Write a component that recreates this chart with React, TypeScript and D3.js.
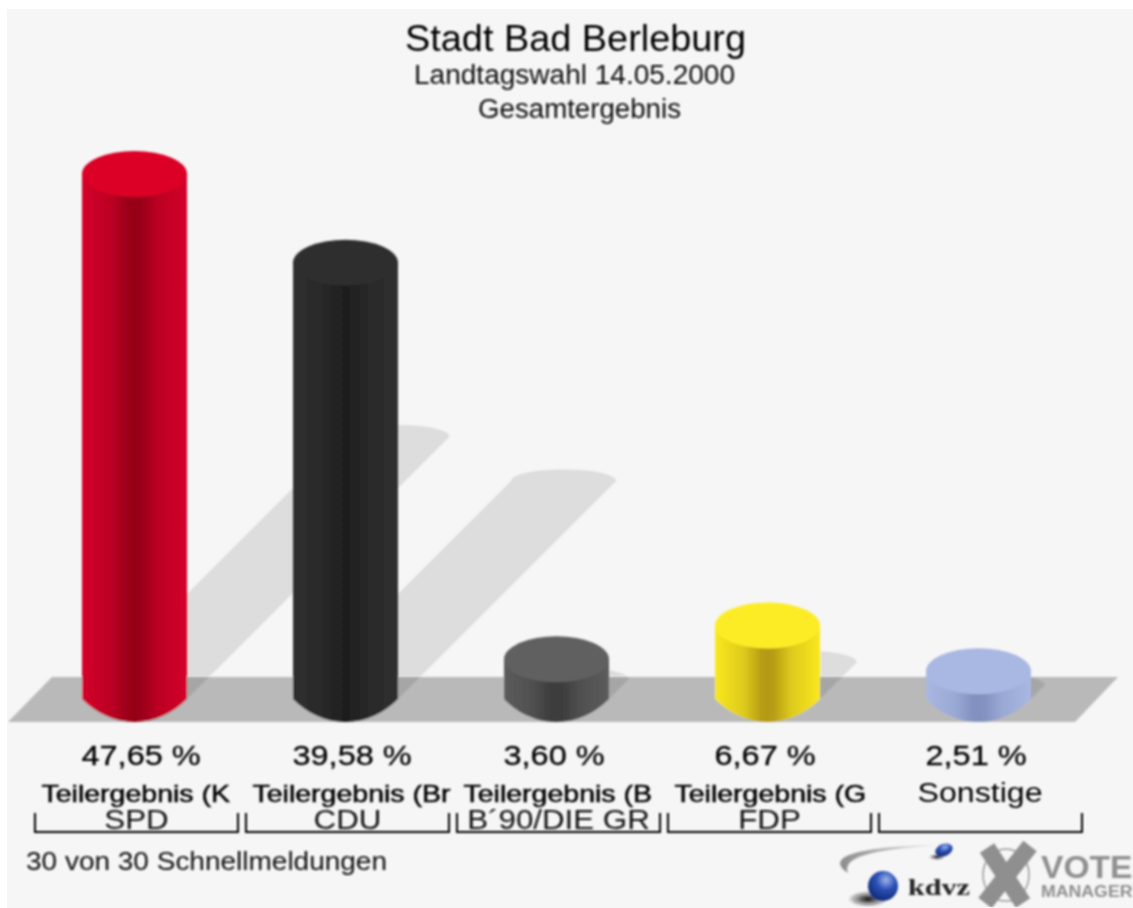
import * as d3 from "d3";

const PARTIES = ["SPD", "CDU", "B´90/DIE GR", "FDP", ""];
const VALUES = [47.65, 39.58, 3.6, 6.67, 2.51];
const VALUE_LABELS = ["47,65 %", "39,58 %", "3,60 %", "6,67 %", "2,51 %"];
const SUB_LABELS = ["Teilergebnis (K", "Teilergebnis (Br", "Teilergebnis (B", "Teilergebnis (G", "Sonstige"];
const CAP_COLORS = ["#dc0028", "#2e2e2e", "#606060", "#fcec27", "#a9b8e2"];
const EDGE_COLORS = ["#d4002a", "#303030", "#5c5c5c", "#f9e81f", "#a9b8e2"];
const MID_COLORS = ["#960018", "#1f1f1f", "#3c3c3c", "#b39a14", "#8290bf"];

const FONT = "'Liberation Sans', Arial, sans-serif";
const WIDTH = 1133;
const HEIGHT = 908;
const BASE_Y = 699;
const RY = 23;

const x = d3.scaleBand<number>().domain(d3.range(5)).range([29, 1084]);
const y = d3.scaleLinear().domain([0, 50]).range([BASE_Y, BASE_Y - 551]);
const RX = x.bandwidth() / 4 - 0.25;

function Cylinder({ i }: { i: number }) {
    const cx = x(i)! + x.bandwidth() / 2;
    const top = y(VALUES[i]);
    // Bottom edge is flatter at the sides than a true ellipse in the reference.
    const bottom =
        `C${cx - RX * 0.74},${BASE_Y + RY * 0.62} ${cx - RX * 0.38},${BASE_Y + RY} ${cx},${BASE_Y + RY} ` +
        `C${cx + RX * 0.38},${BASE_Y + RY} ${cx + RX * 0.74},${BASE_Y + RY * 0.62} ${cx + RX},${BASE_Y}`;
    const body = `M${cx - RX},${top} L${cx - RX},${BASE_Y} ${bottom} L${cx + RX},${top} Z`;
    return (
        <g>
            <path d={body} fill={`url(#bar-${i})`} />
            <ellipse cx={cx} cy={top} rx={RX} ry={RY} fill={CAP_COLORS[i]} />
        </g>
    );
}

// Shadow falls up and to the right at 45 degrees, half the bar's height.
function Shadow({ i }: { i: number }) {
    const cx = x(i)! + x.bandwidth() / 2;
    const d = (BASE_Y - y(VALUES[i])) / 2;
    const path = `M${cx - RX},${BASE_Y} L${cx - RX + d},${BASE_Y - d} A${RX},${RY / 2} 0 0 1 ${cx + RX + d},${BASE_Y - d} L${cx + RX},${BASE_Y} Z`;
    return <path d={path} fill="#000" fillOpacity={0.1} />;
}

function Logo() {
    return (
        <g fontFamily={FONT}>
            <defs>
                <radialGradient id="ball" cx="0.6" cy="0.3" r="0.8">
                    <stop offset="0" stopColor="#9db4ea" />
                    <stop offset="0.4" stopColor="#2c52b8" />
                    <stop offset="1" stopColor="#0c1f66" />
                </radialGradient>
                <radialGradient id="ballShadow">
                    <stop offset="0" stopColor="#111" />
                    <stop offset="1" stopColor="#111" stopOpacity={0} />
                </radialGradient>
                <linearGradient id="swoosh" x1="0" x2="1">
                    <stop offset="0" stopColor="#8d8d8d" />
                    <stop offset="1" stopColor="#e4e4e4" />
                </linearGradient>
            </defs>
            <path d="M848,873 C826,858 850,847 938,845 C870,850 842,857 848,873 Z" fill="url(#swoosh)" />
            <ellipse cx={868} cy={899} rx={20} ry={8} fill="url(#ballShadow)" />
            <circle cx={883} cy={886} r={15} fill="url(#ball)" />
            <ellipse cx={937} cy={857} rx={8} ry={3} fill="url(#ballShadow)" />
            <ellipse cx={944} cy={850} rx={9} ry={6} fill="url(#ball)" transform="rotate(-20 944 850)" />
            <text x={908} y={895} fontFamily="'Liberation Serif', serif" fontWeight="bold" fontSize={24} fill="#222" textLength={62} lengthAdjust="spacingAndGlyphs">kdvz</text>
            <ellipse cx={1006} cy={875} rx={23} ry={26} fill="none" stroke="#9a9a9a" strokeWidth={1.5} />
            <path d="M987,848 L1023,903" stroke="#8f8f8f" strokeWidth={17} />
            <path d="M1030,846 L985,903" stroke="#8f8f8f" strokeWidth={17} />
            <text x={1041} y={878} fontWeight="bold" fontSize={32} fill="#8f8f8f" textLength={91.5} lengthAdjust="spacingAndGlyphs">VOTE</text>
            <text x={1041} y={897} fontWeight="bold" fontSize={16} fill="#8f8f8f" textLength={91.5} lengthAdjust="spacingAndGlyphs">MANAGER</text>
        </g>
    );
}

export default function App() {
    return (
        <svg width={WIDTH} height={HEIGHT} style={{ position: "absolute", left: 0, top: 0 }} fontFamily={FONT}>
            <defs>
                {/* Below about 0.8 the browser's box blur does nothing at all. */}
                <filter id="soft" x="0" y="0" width="100%" height="100%">
                    <feGaussianBlur stdDeviation={0.85} />
                </filter>
                {VALUES.map((_, i) => {
                    const shade = d3.interpolateRgb(EDGE_COLORS[i], MID_COLORS[i]);
                    return (
                        <linearGradient key={i} id={`bar-${i}`} x1="0" x2="1" y1="0" y2="0">
                            <stop offset="0" stopColor={EDGE_COLORS[i]} />
                            <stop offset="0.28" stopColor={shade(0.4)} />
                            <stop offset="0.44" stopColor={shade(0.95)} />
                            <stop offset="0.5" stopColor={MID_COLORS[i]} />
                            <stop offset="0.56" stopColor={shade(0.95)} />
                            <stop offset="0.72" stopColor={shade(0.4)} />
                            <stop offset="1" stopColor={EDGE_COLORS[i]} />
                        </linearGradient>
                    );
                })}
            </defs>
            <rect x={7} y={9} width={WIDTH - 7} height={HEIGHT - 9} fill="#f6f6f6" />
            <g filter="url(#soft)">
                <path d="M8,722 L52,677 L1118,677 L1075,722 Z" fill="#b9b9b9" />
                {VALUES.map((_, i) => <Shadow key={i} i={i} />)}
                {VALUES.map((_, i) => <Cylinder key={i} i={i} />)}

                <g textAnchor="middle" fill="#000">
                    <text x={575.5} y={51} fontSize={36} textLength={341} lengthAdjust="spacingAndGlyphs">Stadt Bad Berleburg</text>
                    <text x={574.5} y={84} fontSize={27} fill="#111" textLength={321} lengthAdjust="spacingAndGlyphs">Landtagswahl 14.05.2000</text>
                    <text x={579.5} y={118} fontSize={27} fill="#111" textLength={203} lengthAdjust="spacingAndGlyphs">Gesamtergebnis</text>
                </g>

                {VALUE_LABELS.map((label, i) => {
                    const cx = x(i)! + x.bandwidth() / 2;
                    const left = cx - 99.5;
                    const isOther = PARTIES[i] === "";
                    return (
                        <g key={i} fill="#000">
                            <text transform={`translate(${cx - 53},765) scale(1.16,1)`} fontSize={28} stroke="#000" strokeWidth={0.3}>{label}</text>
                            {isOther ? (
                                <text x={cx + 1.5} y={802} textAnchor="middle" fontSize={27} textLength={125} lengthAdjust="spacingAndGlyphs">
                                    {SUB_LABELS[i]}
                                </text>
                            ) : (
                                <text transform={`translate(${cx - 93},802) scale(1.24,1)`} fontSize={23} stroke="#000" strokeWidth={0.5}>
                                    {SUB_LABELS[i]}
                                </text>
                            )}
                            <text transform={`translate(${cx + 2},829) scale(1.16,1)`} textAnchor="middle" fontSize={27} fill="#111">{PARTIES[i]}</text>
                            <path d={`M${left},813 V832 H${left + 203} V813`} fill="none" stroke="#000" strokeWidth={2} />
                        </g>
                    );
                })}

                <text x={26} y={870} fontSize={25} fill="#111" textLength={361} lengthAdjust="spacingAndGlyphs">30 von 30 Schnellmeldungen</text>
                <Logo />
            </g>
        </svg>
    );
}
